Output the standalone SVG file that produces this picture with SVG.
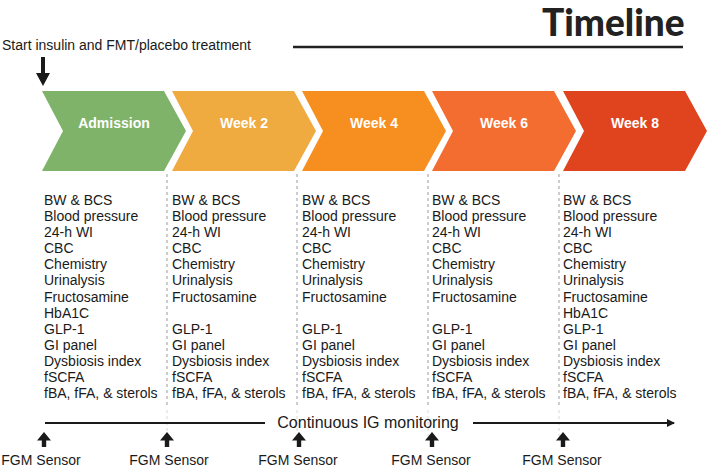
<svg xmlns="http://www.w3.org/2000/svg" width="709" height="467" viewBox="0 0 709 467">
<defs>
<style>
.t{font-family:"Liberation Sans",Arial,sans-serif;font-size:14px;fill:#1a1a1a}
.lbl{font-family:"Liberation Sans",Arial,sans-serif;font-size:14px;font-weight:bold;fill:#fff;text-anchor:middle}
.sen{font-family:"Liberation Sans",Arial,sans-serif;font-size:14px;fill:#1a1a1a;text-anchor:middle}
.dash{stroke:#9a9a9a;stroke-width:1;stroke-dasharray:3,3}
.dash2{stroke:#d8d8d8;stroke-width:1;stroke-dasharray:3,3}
.line{stroke:#1a1a1a;stroke-width:2;fill:none}
</style>
<marker id="ah" markerWidth="8" markerHeight="8" refX="7" refY="4" orient="auto" markerUnits="userSpaceOnUse">
<path d="M0,0 L8,4 L0,8 Z" fill="#1a1a1a"/>
</marker>
<path id="up" d="M0,0 L7,8.5 L2.2,8.5 L2.2,15 L-2.2,15 L-2.2,8.5 L-7,8.5 Z" fill="#1a1a1a"/>
</defs>
<rect width="709" height="467" fill="#fff"/>

<text x="542" y="36" style="font-family:Lato,'Liberation Sans',sans-serif;font-size:37px;font-weight:900;fill:#222">Timeline</text>
<line x1="293" y1="47" x2="683" y2="47" stroke="#222" stroke-width="2.5"/>

<text class="t" x="2" y="50">Start insulin and FMT/placebo treatment</text>
<path d="M41,57 L45,57 L45,73 L50,73 L43,86 L36,73 L41,73 Z" fill="#1a1a1a"/>

<g id="connectors">
<line class="dash" x1="167" y1="174" x2="167" y2="408"/>
<line class="dash" x1="297" y1="174" x2="297" y2="408"/>
<line class="dash" x1="428" y1="174" x2="428" y2="408"/>
<line class="dash" x1="559" y1="174" x2="559" y2="408"/>
<line class="dash2" x1="167" y1="410" x2="167" y2="436"/>
<line class="dash2" x1="297" y1="410" x2="297" y2="436"/>
<line class="dash2" x1="428" y1="410" x2="428" y2="436"/>
<line class="dash2" x1="559" y1="410" x2="559" y2="436"/>
<line class="line" x1="45" y1="423" x2="265" y2="423"/>
<line class="line" x1="473" y1="423" x2="674" y2="423" marker-end="url(#ah)"/>
</g>
<text x="368" y="428" style="font-family:'Liberation Sans',Arial,sans-serif;font-size:16px;fill:#1a1a1a;text-anchor:middle">Continuous IG monitoring</text>

<g id="admission">
<polygon points="42,91 164,91 186,131 164,171 42,171 63,131" fill="#7fb36a"/>
<text class="lbl" x="114" y="128">Admission</text>
<text class="t" x="44" y="205">BW &amp; BCS</text>
<text class="t" x="44" y="221">Blood pressure</text>
<text class="t" x="44" y="237">24-h WI</text>
<text class="t" x="44" y="253">CBC</text>
<text class="t" x="44" y="269">Chemistry</text>
<text class="t" x="44" y="285">Urinalysis</text>
<text class="t" x="44" y="302">Fructosamine</text>
<text class="t" x="44" y="318">HbA1C</text>
<text class="t" x="44" y="334">GLP-1</text>
<text class="t" x="44" y="350">GI panel</text>
<text class="t" x="44" y="366">Dysbiosis index</text>
<text class="t" x="44" y="382">fSCFA</text>
<text class="t" x="44" y="398">fBA, fFA, &amp; sterols</text>
</g>

<g id="week2">
<polygon points="172,91 294,91 316,131 294,171 172,171 193,131" fill="#efaa40"/>
<text class="lbl" x="244" y="128">Week 2</text>
<text class="t" x="172" y="205">BW &amp; BCS</text>
<text class="t" x="172" y="221">Blood pressure</text>
<text class="t" x="172" y="237">24-h WI</text>
<text class="t" x="172" y="253">CBC</text>
<text class="t" x="172" y="269">Chemistry</text>
<text class="t" x="172" y="285">Urinalysis</text>
<text class="t" x="172" y="302">Fructosamine</text>
<text class="t" x="172" y="334">GLP-1</text>
<text class="t" x="172" y="350">GI panel</text>
<text class="t" x="172" y="366">Dysbiosis index</text>
<text class="t" x="172" y="382">fSCFA</text>
<text class="t" x="172" y="398">fBA, fFA, &amp; sterols</text>
</g>

<g id="week4">
<polygon points="302,91 424,91 446,131 424,171 302,171 323,131" fill="#f78f20"/>
<text class="lbl" x="374" y="128">Week 4</text>
<text class="t" x="302" y="205">BW &amp; BCS</text>
<text class="t" x="302" y="221">Blood pressure</text>
<text class="t" x="302" y="237">24-h WI</text>
<text class="t" x="302" y="253">CBC</text>
<text class="t" x="302" y="269">Chemistry</text>
<text class="t" x="302" y="285">Urinalysis</text>
<text class="t" x="302" y="302">Fructosamine</text>
<text class="t" x="302" y="334">GLP-1</text>
<text class="t" x="302" y="350">GI panel</text>
<text class="t" x="302" y="366">Dysbiosis index</text>
<text class="t" x="302" y="382">fSCFA</text>
<text class="t" x="302" y="398">fBA, fFA, &amp; sterols</text>
</g>

<g id="week6">
<polygon points="432,91 554,91 576,131 554,171 432,171 453,131" fill="#f36d31"/>
<text class="lbl" x="504" y="128">Week 6</text>
<text class="t" x="432" y="205">BW &amp; BCS</text>
<text class="t" x="432" y="221">Blood pressure</text>
<text class="t" x="432" y="237">24-h WI</text>
<text class="t" x="432" y="253">CBC</text>
<text class="t" x="432" y="269">Chemistry</text>
<text class="t" x="432" y="285">Urinalysis</text>
<text class="t" x="432" y="302">Fructosamine</text>
<text class="t" x="432" y="334">GLP-1</text>
<text class="t" x="432" y="350">GI panel</text>
<text class="t" x="432" y="366">Dysbiosis index</text>
<text class="t" x="432" y="382">fSCFA</text>
<text class="t" x="432" y="398">fBA, fFA, &amp; sterols</text>
</g>

<g id="week8">
<polygon points="563,91 685,91 707,131 685,171 563,171 584,131" fill="#e0441f"/>
<text class="lbl" x="635" y="128">Week 8</text>
<text class="t" x="563" y="205">BW &amp; BCS</text>
<text class="t" x="563" y="221">Blood pressure</text>
<text class="t" x="563" y="237">24-h WI</text>
<text class="t" x="563" y="253">CBC</text>
<text class="t" x="563" y="269">Chemistry</text>
<text class="t" x="563" y="285">Urinalysis</text>
<text class="t" x="563" y="302">Fructosamine</text>
<text class="t" x="563" y="318">HbA1C</text>
<text class="t" x="563" y="334">GLP-1</text>
<text class="t" x="563" y="350">GI panel</text>
<text class="t" x="563" y="366">Dysbiosis index</text>
<text class="t" x="563" y="382">fSCFA</text>
<text class="t" x="563" y="398">fBA, fFA, &amp; sterols</text>
</g>

<g id="sensors">
<use href="#up" x="44" y="432"/>
<use href="#up" x="167" y="432"/>
<use href="#up" x="299" y="432"/>
<use href="#up" x="432" y="432"/>
<use href="#up" x="563" y="432"/>
<text class="sen" x="41" y="465">FGM Sensor</text>
<text class="sen" x="169" y="465">FGM Sensor</text>
<text class="sen" x="298" y="465">FGM Sensor</text>
<text class="sen" x="431" y="465">FGM Sensor</text>
<text class="sen" x="562" y="465">FGM Sensor</text>
</g>
</svg>
